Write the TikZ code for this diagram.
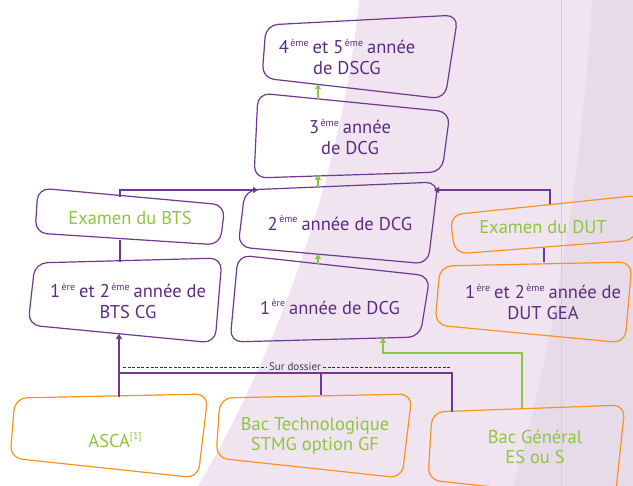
\documentclass[tikz,border=0pt]{standalone}
\usepackage{fontspec}
\setmainfont{PT Sans}
\usetikzlibrary{calc,arrows.meta}
\definecolor{dcgpurple}{RGB}{112, 56, 142}
\definecolor{txtpurple}{RGB}{92, 45, 126}
\definecolor{dcggreen}{RGB}{141, 198, 63}
\definecolor{dcgorange}{RGB}{247, 148, 29}
\definecolor{bgpurple}{RGB}{239, 228, 240}
\definecolor{bgdark}{RGB}{231, 219, 233}
\definecolor{bgline}{RGB}{218, 200, 222}

% small raised ordinal
\newcommand\ordin[1]{\kern1.5pt\raisebox{0.8ex}{\fontsize{10}{10}\selectfont #1}\kern4pt}

% wobbly outline round a node: corners given as shifts from its centre
\newcommand\boxline[6]{%
  \draw[#2, line width=1.2pt, rounded corners=12pt]
    ([shift={#3}]#1.center) -- ([shift={#4}]#1.center) --
    ([shift={#5}]#1.center) -- ([shift={#6}]#1.center) -- cycle;}

\begin{document}
\begin{tikzpicture}[x=1pt, y=-1pt,
  level/.style={align=center, inner sep=0pt, font=\fontsize{18.5}{20.5}\selectfont},
  purpletxt/.style={level, text=txtpurple},
  greentxt/.style={level, text=dcggreen},
  link/.style={draw=dcgpurple, line width=1.1pt},
  linkarrow/.style={link, -{Triangle[length=5pt,width=6pt]}},
  greenarrow/.style={draw=dcggreen, line width=1.1pt, -{Triangle[length=5pt,width=6pt]}}]

% background
\useasboundingbox (0,0) rectangle (633,486);
\fill[white] (0,0) rectangle (633,486);
\fill[bgpurple] (359,0) .. controls (345,150) and (290,330) .. (198,486) -- (633,486) -- (633,0) -- cycle;
\fill[bgdark] (592,0) .. controls (580,200) and (545,380) .. (513,486) -- (633,486) -- (633,0) -- cycle;
\draw[bgline, line width=0.6pt] (561,0) -- (561,486);

% DCG / DSCG column
\node[purpletxt] (dscg) at (347,57) {4\ordin{ème}et 5\ordin{ème}année\\de DSCG};
\node[purpletxt] (dcg3) at (350,137) {3\ordin{ème}année\\de DCG};
\node[purpletxt] (dcg2) at (340,223) {2\ordin{ème}année de DCG};
\node[purpletxt] (dcg1) at (330,307) {1\ordin{ère}année de DCG};

% BTS column
\node[greentxt] (exbts) at (130,218) {Examen du BTS};
\node[purpletxt] (btscg) at (128,301) {1\ordin{ère}et 2\ordin{ème}année de\\BTS CG};

% DUT column
\node[greentxt] (exdut) at (543,227) {Examen du DUT};
\node[purpletxt] (dutgea) at (543,302) {1\ordin{ère}et 2\ordin{ème}année de\\DUT GEA};

% entry level
\node[greentxt] (asca) at (115,440) {ASCA\raisebox{0.8ex}{\fontsize{10}{10}\selectfont [1]}};
\node[greentxt] (bactech) at (315,436) {Bac Technologique\\STMG option GF};
\node[greentxt] (bacgen) at (535,447) {Bac Général\\ES ou S};

% outlines
\boxline{dscg}{dcgpurple}{(-81,-32)}{(111,-42)}{(98,42)}{(-85,21)}
\boxline{dcg3}{dcgpurple}{(-92,-44)}{(100,-25)}{(92,35)}{(-96,41)}
\boxline{dcg2}{dcgpurple}{(-95,-33)}{(98,-41)}{(88,41)}{(-102,24)}
\boxline{dcg1}{dcgpurple}{(-92,-52)}{(100,-31)}{(90,30)}{(-100,35)}
\boxline{exbts}{dcgpurple}{(-92,-30)}{(95,-13)}{(90,27)}{(-95,15)}
\boxline{btscg}{dcgpurple}{(-93,-38)}{(94,-43)}{(87,42)}{(-100,24)}
\boxline{exdut}{dcgorange}{(-93,-12)}{(99,-32)}{(93,13)}{(-88,27)}
\boxline{dutgea}{dcgorange}{(-103,-36)}{(89,-40)}{(82,41)}{(-108,23)}
\boxline{asca}{dcgorange}{(-100,-42)}{(93,-46)}{(83,38)}{(-105,18)}
\boxline{bactech}{dcgorange}{(-95,-38)}{(97,-42)}{(87,42)}{(-99,22)}
\boxline{bacgen}{dcgorange}{(-103,-35)}{(90,-42)}{(80,53)}{(-107,33)}

% green arrows up the DCG column
\draw[greenarrow] ([shift={(-32,-38)}]dcg3.center) -- ([shift={(-29,27)}]dscg.center);
\draw[greenarrow] ([shift={(-22,-36)}]dcg2.center) -- ([shift={(-32,38)}]dcg3.center);
\draw[greenarrow] ([shift={(-12,-43)}]dcg1.center) -- ([shift={(-22,31)}]dcg2.center);

% exams into 2eme annee
\draw[linkarrow] ([shift={(-10,-21)}]exbts.center) |- ([shift={(-82,-33)}]dcg2.center);
\draw[linkarrow] ([shift={(7,-23)}]exdut.center) |- ([shift={(94,-33)}]dcg2.center);
\draw[link] ([shift={(-8,-39)}]btscg.center) -- ([shift={(-10,22)}]exbts.center);
\draw[link] ([shift={(1,-40)}]dutgea.center) -- ([shift={(1,21)}]exdut.center);

% bac into BTS
\coordinate (merge) at ([shift={(4,-67)}]asca.center);
\draw[linkarrow] ([shift={(4,-43)}]asca.center) -- ([shift={(-9,33)}]btscg.center);
\draw[link] (merge) -| ([shift={(-83,-35)}]bacgen.center);
\draw[link] ([shift={(6,-41)}]bactech.center) |- (merge);

% sur dossier
\node[text=black!75, font=\fontsize{11}{12}\selectfont, inner sep=2pt] (dossier) at (295,367) {Sur dossier};
\coordinate (dashl) at (123,368);
\coordinate (dashr) at (450,368);
\draw[black!80, line width=1pt, dash pattern=on 3pt off 1.6pt] (dashl) -- (dashl -| dossier.west);
\draw[black!80, line width=1pt, dash pattern=on 3pt off 1.6pt] (dashr -| dossier.east) -- (dashr);

% bac general into 1ere annee de DCG
\draw[greenarrow] ([shift={(-13,-39)}]bacgen.center) -- ++(0,-55) -| ([shift={(53,31)}]dcg1.center);
\end{tikzpicture}
\end{document}
